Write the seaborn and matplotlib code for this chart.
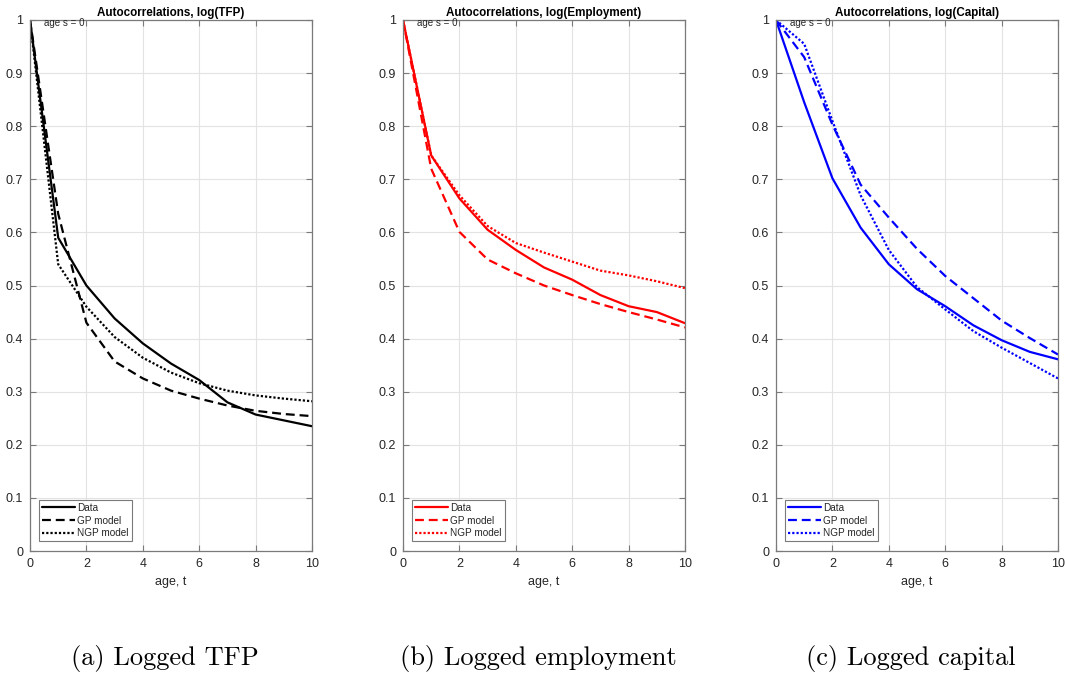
import numpy as np
import pandas as pd
import matplotlib
matplotlib.use("Agg")
import matplotlib.pyplot as plt
import seaborn as sns

# Ages at which the autocorrelations are evaluated
age = list(range(11))

# Autocorrelations of log(TFP)
tfp_data = [1.000, 0.590, 0.500, 0.438, 0.391, 0.353, 0.322, 0.280, 0.257, 0.246, 0.235]
tfp_gp   = [1.000, 0.635, 0.430, 0.357, 0.325, 0.302, 0.287, 0.274, 0.264, 0.258, 0.254]
tfp_ngp  = [1.000, 0.540, 0.460, 0.403, 0.364, 0.336, 0.316, 0.302, 0.293, 0.287, 0.282]

# Autocorrelations of log(Employment)
emp_data = [1.000, 0.745, 0.664, 0.605, 0.567, 0.534, 0.511, 0.482, 0.461, 0.450, 0.429]
emp_gp   = [1.000, 0.720, 0.601, 0.549, 0.523, 0.500, 0.482, 0.465, 0.450, 0.436, 0.421]
emp_ngp  = [1.000, 0.745, 0.670, 0.612, 0.580, 0.562, 0.545, 0.528, 0.519, 0.508, 0.495]

# Autocorrelations of log(Capital)
cap_data = [1.000, 0.845, 0.702, 0.609, 0.540, 0.493, 0.461, 0.425, 0.397, 0.375, 0.361]
cap_gp   = [1.000, 0.930, 0.803, 0.690, 0.628, 0.569, 0.518, 0.476, 0.434, 0.401, 0.370]
cap_ngp  = [1.000, 0.955, 0.810, 0.670, 0.567, 0.497, 0.455, 0.414, 0.383, 0.354, 0.325]

series_names = ["Data", "GP model", "NGP model"]
titles = ["Autocorrelations, log(TFP)", "Autocorrelations, log(Employment)",
          "Autocorrelations, log(Capital)"]
captions = ["(a) Logged TFP", "(b) Logged employment", "(c) Logged capital"]
colors = ["#000000", "#ff0000", "#0000ff"]
xticks = [0, 2, 4, 6, 8, 10]
yticks = [0, 0.1, 0.2, 0.3, 0.4, 0.5, 0.6, 0.7, 0.8, 0.9, 1]
ytick_labels = ["0", "0.1", "0.2", "0.3", "0.4", "0.5", "0.6", "0.7", "0.8", "0.9", "1"]

panels = [
    (tfp_data, tfp_gp, tfp_ngp),
    (emp_data, emp_gp, emp_ngp),
    (cap_data, cap_gp, cap_ngp),
]

sns.set_theme(style="white")
plt.rcParams["font.family"] = ["Liberation Sans", "DejaVu Sans"]

fig = plt.figure(figsize=(10.65, 6.78), dpi=100)

lefts = [30, 403, 776]
W, H = 1065.0, 678.0
frame_col = "#7a7a7a"
text_col = "#262626"
dash_styles = {"Data": "", "GP model": (4, 2.2), "NGP model": (1, 0.9)}

for i, (vals, title, cap, col) in enumerate(zip(panels, titles, captions, colors)):
    ax = fig.add_axes([lefts[i] / W, 1 - 551 / H, 282 / W, 531 / H])
    df = pd.DataFrame({
        "age": age * 3,
        "value": list(vals[0]) + list(vals[1]) + list(vals[2]),
        "series": sum([[n] * len(age) for n in series_names], []),
    })
    sns.lineplot(data=df, x="age", y="value", style="series",
                 style_order=series_names, dashes=dash_styles,
                 color=col, linewidth=1.6, ax=ax, legend=True)

    ax.set_xlim(0, 10)
    ax.set_ylim(0, 1)
    ax.set_xticks(xticks)
    ax.set_xticklabels([str(t) for t in xticks])
    ax.set_yticks(yticks)
    ax.set_yticklabels(ytick_labels)
    ax.grid(True, color="#e3e3e3", linewidth=0.8)
    ax.set_axisbelow(True)
    for sp in ax.spines.values():
        sp.set_visible(True)
        sp.set_color(frame_col)
        sp.set_linewidth(0.9)
    ax.tick_params(direction="in", length=4, width=0.8, color=frame_col,
                   labelsize=9, labelcolor=text_col, top=True, right=True,
                   bottom=True, left=True, pad=5)
    ax.set_xlabel("age, t", fontsize=9, color=text_col, labelpad=4)
    ax.set_ylabel("")
    ax.set_title(title, fontsize=8.4, fontweight="bold", color="#000000", pad=3)
    ax.text(0.5, 0.994, "age s = 0", fontsize=7, color=text_col,
            ha="left", va="center")

    leg = ax.legend(loc="lower left", bbox_to_anchor=(0.033, 0.018),
                    borderaxespad=0, fontsize=7.2, frameon=True, fancybox=False,
                    handlelength=3.3, handletextpad=0.2, labelspacing=0.28,
                    borderpad=0.3, framealpha=1)
    leg.get_frame().set_edgecolor(frame_col)
    leg.get_frame().set_linewidth(0.8)
    for line in leg.get_lines():
        line.set_linewidth(1.6)

    cx = (lefts[i] + 135) / W
    fig.text(cx, 1 - 659 / H, cap, family="cmr10", fontsize=19,
             ha="center", va="center", color="#000000")

fig.savefig("out.png", dpi=100)
